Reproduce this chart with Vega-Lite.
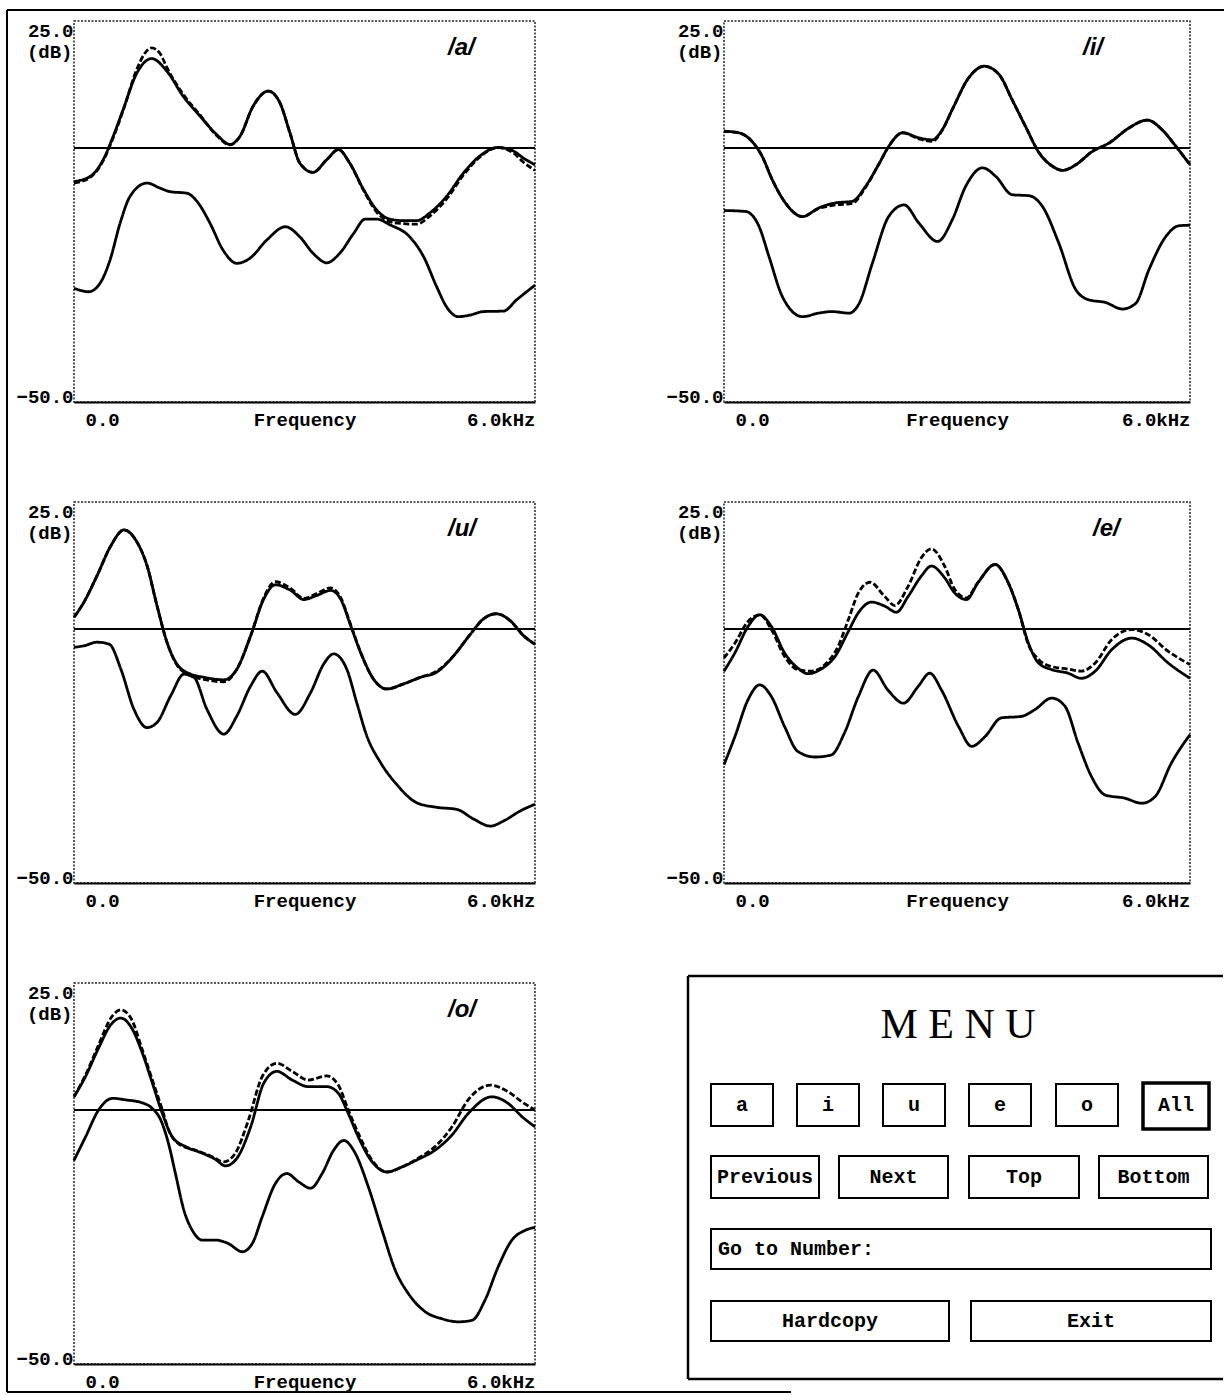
{
"$schema":"https://vega.github.io/schema/vega-lite/v6.json",
"background":"white",
"padding":{"left":5,"top":8,"right":0,"bottom":0},
"config":{
 "view":{"stroke":"#222","strokeWidth":1.5,"strokeDash":[2,1.5]},
 "axis":{"labelFont":"Liberation Mono","labelFontWeight":"bold","labelFontSize":19,"labelColor":"black","titleFont":"Liberation Mono","titleFontWeight":"bold","titleFontSize":19,"titleColor":"black"},
 "title":{"font":"Liberation Sans","fontSize":24,"fontStyle":"italic","fontWeight":"bold","color":"black","anchor":"start","frame":"group","baseline":"top","offset":-39}
},
"datasets":{
"spec":[
{"v":"a","s":"S","f":0,"db":-6.6},{"v":"a","s":"S","f":0.21,"db":-5.6},{"v":"a","s":"S","f":0.38,"db":-2.3},{"v":"a","s":"S","f":0.51,"db":2.3},{"v":"a","s":"S","f":0.64,"db":7.6},{"v":"a","s":"S","f":0.82,"db":14.8},{"v":"a","s":"S","f":1.01,"db":17.6},{"v":"a","s":"S","f":1.21,"db":15.1},{"v":"a","s":"S","f":1.42,"db":10.2},{"v":"a","s":"S","f":1.64,"db":6.3},{"v":"a","s":"S","f":1.86,"db":2.6},{"v":"a","s":"S","f":2.03,"db":0.7},{"v":"a","s":"S","f":2.16,"db":2.3},{"v":"a","s":"S","f":2.33,"db":8.2},{"v":"a","s":"S","f":2.53,"db":11.2},{"v":"a","s":"S","f":2.68,"db":8.9},{"v":"a","s":"S","f":2.81,"db":3.0},{"v":"a","s":"S","f":2.94,"db":-3.0},{"v":"a","s":"S","f":3.11,"db":-4.8},{"v":"a","s":"S","f":3.29,"db":-2.3},{"v":"a","s":"S","f":3.44,"db":-0.3},{"v":"a","s":"S","f":3.59,"db":-3.0},{"v":"a","s":"S","f":3.77,"db":-8.2},{"v":"a","s":"S","f":3.94,"db":-12.2},{"v":"a","s":"S","f":4.11,"db":-14.0},{"v":"a","s":"S","f":4.29,"db":-14.3},{"v":"a","s":"S","f":4.46,"db":-14.3},{"v":"a","s":"S","f":4.63,"db":-12.8},{"v":"a","s":"S","f":4.85,"db":-9.5},{"v":"a","s":"S","f":5.07,"db":-4.9},{"v":"a","s":"S","f":5.28,"db":-1.6},{"v":"a","s":"S","f":5.52,"db":0.1},{"v":"a","s":"S","f":5.72,"db":-0.6},{"v":"a","s":"S","f":5.85,"db":-2.0},{"v":"a","s":"S","f":6.0,"db":-3.3},
{"v":"a","s":"D","f":0,"db":-6.9},{"v":"a","s":"D","f":0.21,"db":-5.8},{"v":"a","s":"D","f":0.38,"db":-2.5},{"v":"a","s":"D","f":0.51,"db":2.0},{"v":"a","s":"D","f":0.64,"db":7.4},{"v":"a","s":"D","f":0.82,"db":15.6},{"v":"a","s":"D","f":0.92,"db":18.6},{"v":"a","s":"D","f":1.01,"db":19.7},{"v":"a","s":"D","f":1.12,"db":18.6},{"v":"a","s":"D","f":1.21,"db":15.8},{"v":"a","s":"D","f":1.42,"db":10.6},{"v":"a","s":"D","f":1.64,"db":6.5},{"v":"a","s":"D","f":1.86,"db":2.4},{"v":"a","s":"D","f":2.03,"db":0.6},{"v":"a","s":"D","f":2.16,"db":2.3},{"v":"a","s":"D","f":2.33,"db":8.2},{"v":"a","s":"D","f":2.53,"db":11.2},{"v":"a","s":"D","f":2.68,"db":8.9},{"v":"a","s":"D","f":2.81,"db":3.0},{"v":"a","s":"D","f":2.94,"db":-3.0},{"v":"a","s":"D","f":3.11,"db":-4.8},{"v":"a","s":"D","f":3.29,"db":-2.3},{"v":"a","s":"D","f":3.44,"db":-0.3},{"v":"a","s":"D","f":3.59,"db":-3.0},{"v":"a","s":"D","f":3.77,"db":-8.4},{"v":"a","s":"D","f":3.94,"db":-12.6},{"v":"a","s":"D","f":4.11,"db":-14.5},{"v":"a","s":"D","f":4.29,"db":-14.9},{"v":"a","s":"D","f":4.46,"db":-15.0},{"v":"a","s":"D","f":4.63,"db":-13.4},{"v":"a","s":"D","f":4.85,"db":-10.0},{"v":"a","s":"D","f":5.07,"db":-5.3},{"v":"a","s":"D","f":5.28,"db":-1.8},{"v":"a","s":"D","f":5.52,"db":0.1},{"v":"a","s":"D","f":5.72,"db":-1.0},{"v":"a","s":"D","f":5.85,"db":-2.8},{"v":"a","s":"D","f":6.0,"db":-4.4},
{"v":"a","s":"L","f":0,"db":-27.6},{"v":"a","s":"L","f":0.19,"db":-28.3},{"v":"a","s":"L","f":0.34,"db":-26.6},{"v":"a","s":"L","f":0.47,"db":-22.0},{"v":"a","s":"L","f":0.60,"db":-14.8},{"v":"a","s":"L","f":0.73,"db":-9.5},{"v":"a","s":"L","f":0.95,"db":-6.9},{"v":"a","s":"L","f":1.12,"db":-7.9},{"v":"a","s":"L","f":1.25,"db":-8.6},{"v":"a","s":"L","f":1.47,"db":-8.9},{"v":"a","s":"L","f":1.60,"db":-10.5},{"v":"a","s":"L","f":1.77,"db":-14.8},{"v":"a","s":"L","f":1.94,"db":-20.1},{"v":"a","s":"L","f":2.12,"db":-22.7},{"v":"a","s":"L","f":2.29,"db":-21.7},{"v":"a","s":"L","f":2.51,"db":-18.1},{"v":"a","s":"L","f":2.75,"db":-15.5},{"v":"a","s":"L","f":2.94,"db":-17.5},{"v":"a","s":"L","f":3.11,"db":-20.7},{"v":"a","s":"L","f":3.29,"db":-22.6},{"v":"a","s":"L","f":3.46,"db":-20.7},{"v":"a","s":"L","f":3.64,"db":-16.8},{"v":"a","s":"L","f":3.79,"db":-14.0},{"v":"a","s":"L","f":3.94,"db":-14.0},{"v":"a","s":"L","f":4.11,"db":-15.1},{"v":"a","s":"L","f":4.37,"db":-17.5},{"v":"a","s":"L","f":4.55,"db":-21.4},{"v":"a","s":"L","f":4.72,"db":-27.3},{"v":"a","s":"L","f":4.85,"db":-31.3},{"v":"a","s":"L","f":5.00,"db":-33.2},{"v":"a","s":"L","f":5.15,"db":-32.9},{"v":"a","s":"L","f":5.33,"db":-32.2},{"v":"a","s":"L","f":5.59,"db":-32.1},{"v":"a","s":"L","f":5.76,"db":-29.9},{"v":"a","s":"L","f":6.0,"db":-27.0},
{"v":"i","s":"S","f":0,"db":3.3},{"v":"i","s":"S","f":0.19,"db":3.0},{"v":"i","s":"S","f":0.36,"db":1.3},{"v":"i","s":"S","f":0.49,"db":-1.6},{"v":"i","s":"S","f":0.62,"db":-6.2},{"v":"i","s":"S","f":0.79,"db":-10.8},{"v":"i","s":"S","f":1.01,"db":-13.5},{"v":"i","s":"S","f":1.22,"db":-11.8},{"v":"i","s":"S","f":1.44,"db":-10.8},{"v":"i","s":"S","f":1.65,"db":-10.5},{"v":"i","s":"S","f":1.82,"db":-7.6},{"v":"i","s":"S","f":2.00,"db":-3.0},{"v":"i","s":"S","f":2.12,"db":0.3},{"v":"i","s":"S","f":2.30,"db":3.0},{"v":"i","s":"S","f":2.51,"db":2.0},{"v":"i","s":"S","f":2.68,"db":1.6},{"v":"i","s":"S","f":2.81,"db":3.6},{"v":"i","s":"S","f":2.94,"db":7.6},{"v":"i","s":"S","f":3.15,"db":13.8},{"v":"i","s":"S","f":3.35,"db":16.1},{"v":"i","s":"S","f":3.54,"db":14.5},{"v":"i","s":"S","f":3.71,"db":9.5},{"v":"i","s":"S","f":3.88,"db":4.3},{"v":"i","s":"S","f":4.06,"db":-1.0},{"v":"i","s":"S","f":4.23,"db":-3.6},{"v":"i","s":"S","f":4.36,"db":-4.4},{"v":"i","s":"S","f":4.53,"db":-3.3},{"v":"i","s":"S","f":4.74,"db":-0.7},{"v":"i","s":"S","f":4.96,"db":1.0},{"v":"i","s":"S","f":5.21,"db":3.9},{"v":"i","s":"S","f":5.45,"db":5.5},{"v":"i","s":"S","f":5.64,"db":3.6},{"v":"i","s":"S","f":5.82,"db":0.3},{"v":"i","s":"S","f":6.0,"db":-3.3},
{"v":"i","s":"D","f":0,"db":3.3},{"v":"i","s":"D","f":0.19,"db":3.0},{"v":"i","s":"D","f":0.36,"db":1.3},{"v":"i","s":"D","f":0.49,"db":-1.6},{"v":"i","s":"D","f":0.62,"db":-6.2},{"v":"i","s":"D","f":0.79,"db":-10.8},{"v":"i","s":"D","f":1.01,"db":-13.5},{"v":"i","s":"D","f":1.22,"db":-11.9},{"v":"i","s":"D","f":1.44,"db":-11.2},{"v":"i","s":"D","f":1.65,"db":-10.9},{"v":"i","s":"D","f":1.82,"db":-7.8},{"v":"i","s":"D","f":2.00,"db":-3.0},{"v":"i","s":"D","f":2.12,"db":0.3},{"v":"i","s":"D","f":2.30,"db":3.0},{"v":"i","s":"D","f":2.51,"db":1.8},{"v":"i","s":"D","f":2.68,"db":1.3},{"v":"i","s":"D","f":2.81,"db":3.5},{"v":"i","s":"D","f":2.94,"db":7.6},{"v":"i","s":"D","f":3.15,"db":13.8},{"v":"i","s":"D","f":3.35,"db":16.1},{"v":"i","s":"D","f":3.54,"db":14.5},{"v":"i","s":"D","f":3.71,"db":9.5},{"v":"i","s":"D","f":3.88,"db":4.3},{"v":"i","s":"D","f":4.06,"db":-1.0},{"v":"i","s":"D","f":4.23,"db":-3.6},{"v":"i","s":"D","f":4.36,"db":-4.4},{"v":"i","s":"D","f":4.53,"db":-3.3},{"v":"i","s":"D","f":4.74,"db":-0.7},{"v":"i","s":"D","f":4.96,"db":1.0},{"v":"i","s":"D","f":5.21,"db":3.9},{"v":"i","s":"D","f":5.45,"db":5.5},{"v":"i","s":"D","f":5.64,"db":3.6},{"v":"i","s":"D","f":5.82,"db":0.3},{"v":"i","s":"D","f":6.0,"db":-3.3},
{"v":"i","s":"L","f":0,"db":-12.3},{"v":"i","s":"L","f":0.28,"db":-12.5},{"v":"i","s":"L","f":0.45,"db":-15.4},{"v":"i","s":"L","f":0.58,"db":-21.4},{"v":"i","s":"L","f":0.75,"db":-29.2},{"v":"i","s":"L","f":1.01,"db":-33.2},{"v":"i","s":"L","f":1.22,"db":-32.5},{"v":"i","s":"L","f":1.39,"db":-32.2},{"v":"i","s":"L","f":1.61,"db":-32.5},{"v":"i","s":"L","f":1.74,"db":-30.6},{"v":"i","s":"L","f":1.91,"db":-22.7},{"v":"i","s":"L","f":2.12,"db":-13.5},{"v":"i","s":"L","f":2.32,"db":-11.2},{"v":"i","s":"L","f":2.51,"db":-14.8},{"v":"i","s":"L","f":2.75,"db":-18.4},{"v":"i","s":"L","f":2.94,"db":-14.1},{"v":"i","s":"L","f":3.11,"db":-7.6},{"v":"i","s":"L","f":3.33,"db":-3.9},{"v":"i","s":"L","f":3.50,"db":-5.6},{"v":"i","s":"L","f":3.71,"db":-9.2},{"v":"i","s":"L","f":3.93,"db":-9.4},{"v":"i","s":"L","f":4.10,"db":-11.5},{"v":"i","s":"L","f":4.31,"db":-18.7},{"v":"i","s":"L","f":4.53,"db":-27.9},{"v":"i","s":"L","f":4.70,"db":-29.9},{"v":"i","s":"L","f":4.91,"db":-30.4},{"v":"i","s":"L","f":5.13,"db":-31.7},{"v":"i","s":"L","f":5.30,"db":-30.6},{"v":"i","s":"L","f":5.47,"db":-24.0},{"v":"i","s":"L","f":5.69,"db":-17.4},{"v":"i","s":"L","f":5.86,"db":-15.3},{"v":"i","s":"L","f":6.0,"db":-15.2},
{"v":"u","s":"S","f":0,"db":2.3},{"v":"u","s":"S","f":0.13,"db":5.3},{"v":"u","s":"S","f":0.30,"db":10.5},{"v":"u","s":"S","f":0.48,"db":16.4},{"v":"u","s":"S","f":0.65,"db":19.5},{"v":"u","s":"S","f":0.82,"db":17.1},{"v":"u","s":"S","f":0.95,"db":12.5},{"v":"u","s":"S","f":1.08,"db":4.6},{"v":"u","s":"S","f":1.21,"db":-2.6},{"v":"u","s":"S","f":1.34,"db":-6.9},{"v":"u","s":"S","f":1.52,"db":-8.9},{"v":"u","s":"S","f":1.69,"db":-9.5},{"v":"u","s":"S","f":1.95,"db":-10.0},{"v":"u","s":"S","f":2.12,"db":-7.9},{"v":"u","s":"S","f":2.30,"db":-1.3},{"v":"u","s":"S","f":2.47,"db":5.9},{"v":"u","s":"S","f":2.62,"db":8.7},{"v":"u","s":"S","f":2.82,"db":7.6},{"v":"u","s":"S","f":2.99,"db":5.8},{"v":"u","s":"S","f":3.16,"db":6.6},{"v":"u","s":"S","f":3.34,"db":7.6},{"v":"u","s":"S","f":3.47,"db":5.9},{"v":"u","s":"S","f":3.60,"db":0.7},{"v":"u","s":"S","f":3.73,"db":-4.6},{"v":"u","s":"S","f":3.90,"db":-9.9},{"v":"u","s":"S","f":4.07,"db":-11.8},{"v":"u","s":"S","f":4.29,"db":-10.8},{"v":"u","s":"S","f":4.51,"db":-9.5},{"v":"u","s":"S","f":4.72,"db":-8.5},{"v":"u","s":"S","f":4.94,"db":-5.3},{"v":"u","s":"S","f":5.16,"db":-1.0},{"v":"u","s":"S","f":5.33,"db":2.0},{"v":"u","s":"S","f":5.50,"db":3.0},{"v":"u","s":"S","f":5.68,"db":1.6},{"v":"u","s":"S","f":5.85,"db":-1.3},{"v":"u","s":"S","f":6.0,"db":-3.0},
{"v":"u","s":"D","f":0,"db":2.3},{"v":"u","s":"D","f":0.13,"db":5.3},{"v":"u","s":"D","f":0.30,"db":10.5},{"v":"u","s":"D","f":0.48,"db":16.4},{"v":"u","s":"D","f":0.65,"db":19.5},{"v":"u","s":"D","f":0.82,"db":17.1},{"v":"u","s":"D","f":0.95,"db":12.5},{"v":"u","s":"D","f":1.08,"db":4.6},{"v":"u","s":"D","f":1.21,"db":-2.6},{"v":"u","s":"D","f":1.34,"db":-7.1},{"v":"u","s":"D","f":1.52,"db":-9.2},{"v":"u","s":"D","f":1.69,"db":-9.9},{"v":"u","s":"D","f":1.95,"db":-10.4},{"v":"u","s":"D","f":2.12,"db":-7.9},{"v":"u","s":"D","f":2.30,"db":-1.3},{"v":"u","s":"D","f":2.47,"db":6.2},{"v":"u","s":"D","f":2.62,"db":9.3},{"v":"u","s":"D","f":2.82,"db":8.0},{"v":"u","s":"D","f":2.99,"db":6.0},{"v":"u","s":"D","f":3.16,"db":7.0},{"v":"u","s":"D","f":3.34,"db":8.1},{"v":"u","s":"D","f":3.47,"db":6.2},{"v":"u","s":"D","f":3.60,"db":0.9},{"v":"u","s":"D","f":3.73,"db":-4.6},{"v":"u","s":"D","f":3.90,"db":-9.9},{"v":"u","s":"D","f":4.07,"db":-11.8},{"v":"u","s":"D","f":4.29,"db":-10.8},{"v":"u","s":"D","f":4.51,"db":-9.5},{"v":"u","s":"D","f":4.72,"db":-8.3},{"v":"u","s":"D","f":4.94,"db":-5.3},{"v":"u","s":"D","f":5.16,"db":-1.0},{"v":"u","s":"D","f":5.33,"db":2.0},{"v":"u","s":"D","f":5.50,"db":3.0},{"v":"u","s":"D","f":5.68,"db":1.6},{"v":"u","s":"D","f":5.85,"db":-1.3},{"v":"u","s":"D","f":6.0,"db":-3.0},
{"v":"u","s":"L","f":0,"db":-3.6},{"v":"u","s":"L","f":0.13,"db":-3.3},{"v":"u","s":"L","f":0.30,"db":-2.6},{"v":"u","s":"L","f":0.46,"db":-3.0},{"v":"u","s":"L","f":0.61,"db":-7.9},{"v":"u","s":"L","f":0.78,"db":-15.8},{"v":"u","s":"L","f":0.95,"db":-19.4},{"v":"u","s":"L","f":1.08,"db":-18.4},{"v":"u","s":"L","f":1.26,"db":-13.1},{"v":"u","s":"L","f":1.43,"db":-8.9},{"v":"u","s":"L","f":1.56,"db":-9.5},{"v":"u","s":"L","f":1.73,"db":-15.8},{"v":"u","s":"L","f":1.95,"db":-20.7},{"v":"u","s":"L","f":2.12,"db":-17.1},{"v":"u","s":"L","f":2.30,"db":-11.2},{"v":"u","s":"L","f":2.45,"db":-8.3},{"v":"u","s":"L","f":2.64,"db":-12.5},{"v":"u","s":"L","f":2.88,"db":-16.8},{"v":"u","s":"L","f":3.08,"db":-12.5},{"v":"u","s":"L","f":3.25,"db":-6.9},{"v":"u","s":"L","f":3.38,"db":-4.9},{"v":"u","s":"L","f":3.55,"db":-7.9},{"v":"u","s":"L","f":3.68,"db":-14.5},{"v":"u","s":"L","f":3.81,"db":-21.0},{"v":"u","s":"L","f":3.99,"db":-26.3},{"v":"u","s":"L","f":4.20,"db":-30.6},{"v":"u","s":"L","f":4.46,"db":-34.2},{"v":"u","s":"L","f":4.72,"db":-35.1},{"v":"u","s":"L","f":4.98,"db":-35.5},{"v":"u","s":"L","f":5.20,"db":-37.4},{"v":"u","s":"L","f":5.42,"db":-38.8},{"v":"u","s":"L","f":5.59,"db":-37.8},{"v":"u","s":"L","f":5.81,"db":-35.8},{"v":"u","s":"L","f":6.0,"db":-34.5},
{"v":"e","s":"S","f":0,"db":-8.3},{"v":"e","s":"S","f":0.14,"db":-4.7},{"v":"e","s":"S","f":0.31,"db":0.5},{"v":"e","s":"S","f":0.46,"db":2.8},{"v":"e","s":"S","f":0.61,"db":0.5},{"v":"e","s":"S","f":0.78,"db":-4.7},{"v":"e","s":"S","f":0.95,"db":-7.7},{"v":"e","s":"S","f":1.08,"db":-8.8},{"v":"e","s":"S","f":1.25,"db":-7.9},{"v":"e","s":"S","f":1.43,"db":-5.4},{"v":"e","s":"S","f":1.60,"db":-0.5},{"v":"e","s":"S","f":1.73,"db":3.2},{"v":"e","s":"S","f":1.90,"db":5.3},{"v":"e","s":"S","f":2.07,"db":4.5},{"v":"e","s":"S","f":2.22,"db":3.3},{"v":"e","s":"S","f":2.37,"db":6.4},{"v":"e","s":"S","f":2.54,"db":10.4},{"v":"e","s":"S","f":2.67,"db":12.4},{"v":"e","s":"S","f":2.84,"db":10.1},{"v":"e","s":"S","f":2.97,"db":7.1},{"v":"e","s":"S","f":3.12,"db":5.8},{"v":"e","s":"S","f":3.27,"db":9.1},{"v":"e","s":"S","f":3.49,"db":12.7},{"v":"e","s":"S","f":3.66,"db":9.1},{"v":"e","s":"S","f":3.79,"db":3.8},{"v":"e","s":"S","f":3.92,"db":-2.8},{"v":"e","s":"S","f":4.05,"db":-6.7},{"v":"e","s":"S","f":4.22,"db":-8.0},{"v":"e","s":"S","f":4.43,"db":-8.7},{"v":"e","s":"S","f":4.60,"db":-9.7},{"v":"e","s":"S","f":4.78,"db":-8.3},{"v":"e","s":"S","f":4.99,"db":-4.1},{"v":"e","s":"S","f":5.25,"db":-1.8},{"v":"e","s":"S","f":5.46,"db":-3.1},{"v":"e","s":"S","f":5.72,"db":-6.7},{"v":"e","s":"S","f":6.0,"db":-9.7},
{"v":"e","s":"D","f":0,"db":-5.7},{"v":"e","s":"D","f":0.14,"db":-2.8},{"v":"e","s":"D","f":0.31,"db":1.5},{"v":"e","s":"D","f":0.46,"db":2.8},{"v":"e","s":"D","f":0.61,"db":-0.1},{"v":"e","s":"D","f":0.78,"db":-5.4},{"v":"e","s":"D","f":0.95,"db":-8.0},{"v":"e","s":"D","f":1.13,"db":-8.3},{"v":"e","s":"D","f":1.30,"db":-7.0},{"v":"e","s":"D","f":1.47,"db":-3.4},{"v":"e","s":"D","f":1.60,"db":1.8},{"v":"e","s":"D","f":1.73,"db":7.1},{"v":"e","s":"D","f":1.88,"db":9.2},{"v":"e","s":"D","f":2.07,"db":6.4},{"v":"e","s":"D","f":2.20,"db":4.6},{"v":"e","s":"D","f":2.37,"db":8.4},{"v":"e","s":"D","f":2.54,"db":14.0},{"v":"e","s":"D","f":2.67,"db":15.8},{"v":"e","s":"D","f":2.84,"db":12.4},{"v":"e","s":"D","f":2.97,"db":7.8},{"v":"e","s":"D","f":3.12,"db":6.1},{"v":"e","s":"D","f":3.27,"db":9.2},{"v":"e","s":"D","f":3.49,"db":12.7},{"v":"e","s":"D","f":3.66,"db":9.1},{"v":"e","s":"D","f":3.79,"db":3.8},{"v":"e","s":"D","f":3.92,"db":-3.1},{"v":"e","s":"D","f":4.05,"db":-6.0},{"v":"e","s":"D","f":4.22,"db":-7.4},{"v":"e","s":"D","f":4.43,"db":-7.9},{"v":"e","s":"D","f":4.60,"db":-8.3},{"v":"e","s":"D","f":4.78,"db":-6.7},{"v":"e","s":"D","f":4.99,"db":-2.1},{"v":"e","s":"D","f":5.25,"db":-0.1},{"v":"e","s":"D","f":5.46,"db":-1.1},{"v":"e","s":"D","f":5.72,"db":-4.4},{"v":"e","s":"D","f":6.0,"db":-7.0},
{"v":"e","s":"L","f":0,"db":-26.7},{"v":"e","s":"L","f":0.14,"db":-21.2},{"v":"e","s":"L","f":0.31,"db":-13.9},{"v":"e","s":"L","f":0.46,"db":-11.0},{"v":"e","s":"L","f":0.61,"db":-13.3},{"v":"e","s":"L","f":0.78,"db":-19.2},{"v":"e","s":"L","f":0.95,"db":-24.1},{"v":"e","s":"L","f":1.17,"db":-25.2},{"v":"e","s":"L","f":1.38,"db":-24.8},{"v":"e","s":"L","f":1.55,"db":-20.5},{"v":"e","s":"L","f":1.73,"db":-13.3},{"v":"e","s":"L","f":1.92,"db":-8.1},{"v":"e","s":"L","f":2.11,"db":-12.0},{"v":"e","s":"L","f":2.31,"db":-14.6},{"v":"e","s":"L","f":2.50,"db":-11.3},{"v":"e","s":"L","f":2.65,"db":-8.7},{"v":"e","s":"L","f":2.80,"db":-12.0},{"v":"e","s":"L","f":3.02,"db":-19.2},{"v":"e","s":"L","f":3.19,"db":-23.1},{"v":"e","s":"L","f":3.36,"db":-21.2},{"v":"e","s":"L","f":3.57,"db":-17.5},{"v":"e","s":"L","f":3.83,"db":-17.2},{"v":"e","s":"L","f":4.00,"db":-15.9},{"v":"e","s":"L","f":4.22,"db":-13.6},{"v":"e","s":"L","f":4.39,"db":-15.2},{"v":"e","s":"L","f":4.56,"db":-22.5},{"v":"e","s":"L","f":4.73,"db":-29.0},{"v":"e","s":"L","f":4.91,"db":-32.7},{"v":"e","s":"L","f":5.16,"db":-33.3},{"v":"e","s":"L","f":5.38,"db":-34.3},{"v":"e","s":"L","f":5.55,"db":-33.0},{"v":"e","s":"L","f":5.76,"db":-26.4},{"v":"e","s":"L","f":6.0,"db":-20.8},
{"v":"o","s":"D","f":0,"db":2.6},{"v":"o","s":"D","f":0.15,"db":6.9},{"v":"o","s":"D","f":0.32,"db":12.8},{"v":"o","s":"D","f":0.48,"db":18.1},{"v":"o","s":"D","f":0.61,"db":19.7},{"v":"o","s":"D","f":0.74,"db":18.1},{"v":"o","s":"D","f":0.89,"db":11.8},{"v":"o","s":"D","f":1.02,"db":5.9},{"v":"o","s":"D","f":1.15,"db":0.0},{"v":"o","s":"D","f":1.23,"db":-3.9},{"v":"o","s":"D","f":1.36,"db":-6.6},{"v":"o","s":"D","f":1.58,"db":-7.9},{"v":"o","s":"D","f":1.80,"db":-9.2},{"v":"o","s":"D","f":1.95,"db":-10.2},{"v":"o","s":"D","f":2.10,"db":-8.5},{"v":"o","s":"D","f":2.27,"db":-2.0},{"v":"o","s":"D","f":2.45,"db":6.6},{"v":"o","s":"D","f":2.64,"db":9.2},{"v":"o","s":"D","f":2.84,"db":7.6},{"v":"o","s":"D","f":3.05,"db":5.9},{"v":"o","s":"D","f":3.29,"db":6.7},{"v":"o","s":"D","f":3.44,"db":4.9},{"v":"o","s":"D","f":3.57,"db":0.0},{"v":"o","s":"D","f":3.70,"db":-4.6},{"v":"o","s":"D","f":3.88,"db":-9.9},{"v":"o","s":"D","f":4.07,"db":-12.2},{"v":"o","s":"D","f":4.27,"db":-11.2},{"v":"o","s":"D","f":4.48,"db":-9.5},{"v":"o","s":"D","f":4.70,"db":-7.2},{"v":"o","s":"D","f":4.92,"db":-3.3},{"v":"o","s":"D","f":5.13,"db":2.0},{"v":"o","s":"D","f":5.42,"db":4.9},{"v":"o","s":"D","f":5.65,"db":3.6},{"v":"o","s":"D","f":5.83,"db":1.6},{"v":"o","s":"D","f":6.0,"db":0.0},
{"v":"o","s":"S","f":0,"db":2.6},{"v":"o","s":"S","f":0.15,"db":6.6},{"v":"o","s":"S","f":0.32,"db":12.2},{"v":"o","s":"S","f":0.48,"db":16.8},{"v":"o","s":"S","f":0.61,"db":18.1},{"v":"o","s":"S","f":0.74,"db":16.4},{"v":"o","s":"S","f":0.89,"db":11.2},{"v":"o","s":"S","f":1.02,"db":5.3},{"v":"o","s":"S","f":1.15,"db":-0.7},{"v":"o","s":"S","f":1.28,"db":-5.3},{"v":"o","s":"S","f":1.45,"db":-7.2},{"v":"o","s":"S","f":1.67,"db":-8.5},{"v":"o","s":"S","f":1.84,"db":-9.7},{"v":"o","s":"S","f":1.97,"db":-11.0},{"v":"o","s":"S","f":2.12,"db":-9.5},{"v":"o","s":"S","f":2.30,"db":-3.3},{"v":"o","s":"S","f":2.47,"db":5.3},{"v":"o","s":"S","f":2.64,"db":7.6},{"v":"o","s":"S","f":2.84,"db":5.9},{"v":"o","s":"S","f":3.05,"db":4.6},{"v":"o","s":"S","f":3.29,"db":4.6},{"v":"o","s":"S","f":3.44,"db":3.3},{"v":"o","s":"S","f":3.57,"db":-0.7},{"v":"o","s":"S","f":3.70,"db":-5.3},{"v":"o","s":"S","f":3.88,"db":-10.2},{"v":"o","s":"S","f":4.07,"db":-12.2},{"v":"o","s":"S","f":4.27,"db":-11.2},{"v":"o","s":"S","f":4.48,"db":-9.7},{"v":"o","s":"S","f":4.70,"db":-7.9},{"v":"o","s":"S","f":4.92,"db":-4.9},{"v":"o","s":"S","f":5.13,"db":-0.7},{"v":"o","s":"S","f":5.44,"db":2.6},{"v":"o","s":"S","f":5.65,"db":1.3},{"v":"o","s":"S","f":5.83,"db":-1.3},{"v":"o","s":"S","f":6.0,"db":-3.3},
{"v":"o","s":"L","f":0,"db":-9.9},{"v":"o","s":"L","f":0.15,"db":-5.3},{"v":"o","s":"L","f":0.32,"db":0.0},{"v":"o","s":"L","f":0.50,"db":2.3},{"v":"o","s":"L","f":0.67,"db":2.0},{"v":"o","s":"L","f":0.89,"db":1.4},{"v":"o","s":"L","f":1.02,"db":0.3},{"v":"o","s":"L","f":1.13,"db":-2.0},{"v":"o","s":"L","f":1.23,"db":-6.6},{"v":"o","s":"L","f":1.32,"db":-12.5},{"v":"o","s":"L","f":1.43,"db":-19.7},{"v":"o","s":"L","f":1.54,"db":-23.7},{"v":"o","s":"L","f":1.67,"db":-25.6},{"v":"o","s":"L","f":1.84,"db":-25.6},{"v":"o","s":"L","f":2.01,"db":-26.3},{"v":"o","s":"L","f":2.19,"db":-27.9},{"v":"o","s":"L","f":2.32,"db":-26.3},{"v":"o","s":"L","f":2.45,"db":-21.0},{"v":"o","s":"L","f":2.62,"db":-14.5},{"v":"o","s":"L","f":2.77,"db":-12.5},{"v":"o","s":"L","f":2.92,"db":-14.1},{"v":"o","s":"L","f":3.08,"db":-15.4},{"v":"o","s":"L","f":3.23,"db":-12.5},{"v":"o","s":"L","f":3.38,"db":-7.9},{"v":"o","s":"L","f":3.51,"db":-6.0},{"v":"o","s":"L","f":3.66,"db":-8.5},{"v":"o","s":"L","f":3.83,"db":-15.1},{"v":"o","s":"L","f":4.01,"db":-23.7},{"v":"o","s":"L","f":4.18,"db":-31.5},{"v":"o","s":"L","f":4.35,"db":-36.1},{"v":"o","s":"L","f":4.57,"db":-39.7},{"v":"o","s":"L","f":4.79,"db":-41.1},{"v":"o","s":"L","f":5.00,"db":-41.7},{"v":"o","s":"L","f":5.18,"db":-41.4},{"v":"o","s":"L","f":5.35,"db":-37.4},{"v":"o","s":"L","f":5.52,"db":-30.9},{"v":"o","s":"L","f":5.70,"db":-25.6},{"v":"o","s":"L","f":5.87,"db":-23.7},{"v":"o","s":"L","f":6.0,"db":-23.1}
],
"menu":[
{"k":"frame","x0":-140.8,"x1":102.6,"y0":-193.2,"y1":-193.2},
{"k":"frame","x0":-140.8,"x1":-140.8,"y0":-193.2,"y1":83.2},
{"k":"frame","x0":-140.8,"x1":16,"y0":83.2,"y1":83.2},
{"k":"edge","x0":-4.6,"x1":102.4,"y0":0,"y1":0},
{"k":"edge","x0":-4.6,"x1":-4.6,"y0":0,"y1":80.6},
{"k":"edge","x0":-4.6,"x1":102.4,"y0":80.6,"y1":80.6},
{"k":"head","t":"M E N U","cx":49.4,"cy":9.8},
{"k":"btn","t":"a","x0":0,"x1":12.4,"y0":21.6,"y1":30,"cx":6.2,"cy":25.8},
{"k":"btn","t":"i","x0":17.2,"x1":29.6,"y0":21.6,"y1":30,"cx":23.4,"cy":25.8},
{"k":"btn","t":"u","x0":34.4,"x1":46.8,"y0":21.6,"y1":30,"cx":40.6,"cy":25.8},
{"k":"btn","t":"e","x0":51.6,"x1":64,"y0":21.6,"y1":30,"cx":57.8,"cy":25.8},
{"k":"btn","t":"o","x0":69,"x1":81.4,"y0":21.6,"y1":30,"cx":75.2,"cy":25.8},
{"k":"btn","t":"All","x0":86.4,"x1":99.6,"y0":21.4,"y1":30.6,"cx":93,"cy":25.8},
{"k":"btn","t":"Previous","x0":0,"x1":21.6,"y0":36,"y1":44.4,"cx":10.8,"cy":40.2},
{"k":"btn","t":"Next","x0":25.6,"x1":47.4,"y0":36,"y1":44.4,"cx":36.5,"cy":40.2},
{"k":"btn","t":"Top","x0":51.6,"x1":73.6,"y0":36,"y1":44.4,"cx":62.6,"cy":40.2},
{"k":"btn","t":"Bottom","x0":77.6,"x1":99.4,"y0":36,"y1":44.4,"cx":88.5,"cy":40.2},
{"k":"input","t":"Go to Number:","x0":0,"x1":100,"y0":50.6,"y1":58.6,"cx":1.4,"cy":54.6},
{"k":"btn","t":"Hardcopy","x0":0,"x1":47.6,"y0":65,"y1":73,"cx":23.8,"cy":69},
{"k":"btn","t":"Exit","x0":52,"x1":100,"y0":65,"y1":73,"cx":76,"cy":69}
]
},
"columns":2,
"spacing":{"row":100,"column":189},
"bounds":"flush",
"concat":[
{"width":461,"height":381,"title":{"text":"/a/","dx":374},
 "encoding":{"y":{"field":"db","type":"quantitative","scale":{"domain":[-50,25],"nice":false,"zero":false},"axis":{"values":[-50,25],"format":".1f","labelBaseline":{"condition":{"test":"datum.value == 25","value":"top"},"value":"alphabetic"},"ticks":false,"domain":false,"grid":false,"labelPadding":1,"title":"(dB)","titleAngle":0,"titleAlign":"right","titleBaseline":"middle","titleX":-2,"titleY":30}}},
 "layer":[
  {"data":{"name":"spec"},"transform":[{"filter":"datum.v == 'a'"}],"mark":{"type":"line","interpolate":"monotone","strokeWidth":2.8,"color":"black"},
   "encoding":{"x":{"field":"f","type":"quantitative","scale":{"domain":[0,6],"nice":false,"zero":false},"axis":{"values":[0,6],"labelExpr":"datum.value == 0 ? '0.0' : '6.0kHz'","labelFlush":true,"labelOffset":{"condition":{"test":"datum.value == 0","value":11},"value":0},"ticks":false,"grid":false,"domainColor":"black","domainWidth":2,"labelPadding":8,"labelBaseline":"top","title":"Frequency","titleBaseline":"top","titleY":8}},
   "strokeDash":{"field":"s","type":"nominal","scale":{"domain":["S","D","L"],"range":[[1,0],[6,2.5],[1,0]]},"legend":null}}},
  {"data":{"values":[{"db":0}]},"mark":{"type":"rule","color":"black","strokeWidth":2},"encoding":{}}
 ]},
{"width":466,"height":381,"title":{"text":"/i/","dx":359},
 "encoding":{"y":{"field":"db","type":"quantitative","scale":{"domain":[-50,25],"nice":false,"zero":false},"axis":{"values":[-50,25],"format":".1f","labelBaseline":{"condition":{"test":"datum.value == 25","value":"top"},"value":"alphabetic"},"ticks":false,"domain":false,"grid":false,"labelPadding":1,"title":"(dB)","titleAngle":0,"titleAlign":"right","titleBaseline":"middle","titleX":-2,"titleY":30}}},
 "layer":[
  {"data":{"name":"spec"},"transform":[{"filter":"datum.v == 'i'"}],"mark":{"type":"line","interpolate":"monotone","strokeWidth":2.8,"color":"black"},
   "encoding":{"x":{"field":"f","type":"quantitative","scale":{"domain":[0,6],"nice":false,"zero":false},"axis":{"values":[0,6],"labelExpr":"datum.value == 0 ? '0.0' : '6.0kHz'","labelFlush":true,"labelOffset":{"condition":{"test":"datum.value == 0","value":11},"value":0},"ticks":false,"grid":false,"domainColor":"black","domainWidth":2,"labelPadding":8,"labelBaseline":"top","title":"Frequency","titleBaseline":"top","titleY":8}},
   "strokeDash":{"field":"s","type":"nominal","scale":{"domain":["S","D","L"],"range":[[1,0],[6,2.5],[1,0]]},"legend":null}}},
  {"data":{"values":[{"db":0}]},"mark":{"type":"rule","color":"black","strokeWidth":2},"encoding":{}}
 ]},
{"width":461,"height":381,"title":{"text":"/u/","dx":374},
 "encoding":{"y":{"field":"db","type":"quantitative","scale":{"domain":[-50,25],"nice":false,"zero":false},"axis":{"values":[-50,25],"format":".1f","labelBaseline":{"condition":{"test":"datum.value == 25","value":"top"},"value":"alphabetic"},"ticks":false,"domain":false,"grid":false,"labelPadding":1,"title":"(dB)","titleAngle":0,"titleAlign":"right","titleBaseline":"middle","titleX":-2,"titleY":30}}},
 "layer":[
  {"data":{"name":"spec"},"transform":[{"filter":"datum.v == 'u'"}],"mark":{"type":"line","interpolate":"monotone","strokeWidth":2.8,"color":"black"},
   "encoding":{"x":{"field":"f","type":"quantitative","scale":{"domain":[0,6],"nice":false,"zero":false},"axis":{"values":[0,6],"labelExpr":"datum.value == 0 ? '0.0' : '6.0kHz'","labelFlush":true,"labelOffset":{"condition":{"test":"datum.value == 0","value":11},"value":0},"ticks":false,"grid":false,"domainColor":"black","domainWidth":2,"labelPadding":8,"labelBaseline":"top","title":"Frequency","titleBaseline":"top","titleY":8}},
   "strokeDash":{"field":"s","type":"nominal","scale":{"domain":["S","D","L"],"range":[[1,0],[6,2.5],[1,0]]},"legend":null}}},
  {"data":{"values":[{"db":0}]},"mark":{"type":"rule","color":"black","strokeWidth":2},"encoding":{}}
 ]},
{"width":466,"height":381,"title":{"text":"/e/","dx":369},
 "encoding":{"y":{"field":"db","type":"quantitative","scale":{"domain":[-50,25],"nice":false,"zero":false},"axis":{"values":[-50,25],"format":".1f","labelBaseline":{"condition":{"test":"datum.value == 25","value":"top"},"value":"alphabetic"},"ticks":false,"domain":false,"grid":false,"labelPadding":1,"title":"(dB)","titleAngle":0,"titleAlign":"right","titleBaseline":"middle","titleX":-2,"titleY":30}}},
 "layer":[
  {"data":{"name":"spec"},"transform":[{"filter":"datum.v == 'e'"}],"mark":{"type":"line","interpolate":"monotone","strokeWidth":2.8,"color":"black"},
   "encoding":{"x":{"field":"f","type":"quantitative","scale":{"domain":[0,6],"nice":false,"zero":false},"axis":{"values":[0,6],"labelExpr":"datum.value == 0 ? '0.0' : '6.0kHz'","labelFlush":true,"labelOffset":{"condition":{"test":"datum.value == 0","value":11},"value":0},"ticks":false,"grid":false,"domainColor":"black","domainWidth":2,"labelPadding":8,"labelBaseline":"top","title":"Frequency","titleBaseline":"top","titleY":8}},
   "strokeDash":{"field":"s","type":"nominal","scale":{"domain":["S","D","L"],"range":[[1,0],[6,2.5],[1,0]]},"legend":null}}},
  {"data":{"values":[{"db":0}]},"mark":{"type":"rule","color":"black","strokeWidth":2},"encoding":{}}
 ]},
{"width":461,"height":381,"title":{"text":"/o/","dx":374},
 "encoding":{"y":{"field":"db","type":"quantitative","scale":{"domain":[-50,25],"nice":false,"zero":false},"axis":{"values":[-50,25],"format":".1f","labelBaseline":{"condition":{"test":"datum.value == 25","value":"top"},"value":"alphabetic"},"ticks":false,"domain":false,"grid":false,"labelPadding":1,"title":"(dB)","titleAngle":0,"titleAlign":"right","titleBaseline":"middle","titleX":-2,"titleY":30}}},
 "layer":[
  {"data":{"name":"spec"},"transform":[{"filter":"datum.v == 'o'"}],"mark":{"type":"line","interpolate":"monotone","strokeWidth":2.8,"color":"black"},
   "encoding":{"x":{"field":"f","type":"quantitative","scale":{"domain":[0,6],"nice":false,"zero":false},"axis":{"values":[0,6],"labelExpr":"datum.value == 0 ? '0.0' : '6.0kHz'","labelFlush":true,"labelOffset":{"condition":{"test":"datum.value == 0","value":11},"value":0},"ticks":false,"grid":false,"domainColor":"black","domainWidth":2,"labelPadding":8,"labelBaseline":"top","title":"Frequency","titleBaseline":"top","titleY":8}},
   "strokeDash":{"field":"s","type":"nominal","scale":{"domain":["S","D","L"],"range":[[1,0],[6,2.5],[1,0]]},"legend":null}}},
  {"data":{"values":[{"db":0}]},"mark":{"type":"rule","color":"black","strokeWidth":2},"encoding":{}}
 ]},
{"width":500,"height":381,"view":{"stroke":null},
 "data":{"name":"menu"},
 "encoding":{
  "x":{"field":"x0","type":"quantitative","scale":{"domain":[2.6,102.6],"nice":false,"zero":false},"axis":null},
  "y":{"field":"y0","type":"quantitative","scale":{"domain":[1.4,77.6],"nice":false,"zero":false,"reverse":true},"axis":null}
 },
 "layer":[
  {"transform":[{"filter":"datum.k == 'frame'"}],"mark":{"type":"rule","color":"black","strokeWidth":2,"clip":false},
   "encoding":{"x2":{"field":"x1"},"y2":{"field":"y1"}}},
  {"transform":[{"filter":"datum.k == 'edge'"}],"mark":{"type":"rule","color":"black","strokeWidth":2.5,"clip":false},
   "encoding":{"x2":{"field":"x1"},"y2":{"field":"y1"}}},
  {"transform":[{"filter":"datum.k == 'btn' || datum.k == 'input'"}],"mark":{"type":"rect","fill":"white","stroke":"black","clip":false},
   "encoding":{"x2":{"field":"x1"},"y2":{"field":"y1"},"strokeWidth":{"condition":{"test":"datum.t == 'All'","value":3.5},"value":2}}},
  {"transform":[{"filter":"datum.k == 'btn'"}],"mark":{"type":"text","font":"Liberation Mono","fontWeight":"bold","fontSize":20,"align":"center","baseline":"middle","color":"black"},
   "encoding":{"x":{"field":"cx","type":"quantitative"},"y":{"field":"cy","type":"quantitative"},"text":{"field":"t"}}},
  {"transform":[{"filter":"datum.k == 'input'"}],"mark":{"type":"text","font":"Liberation Mono","fontWeight":"bold","fontSize":20,"align":"left","baseline":"middle","color":"black"},
   "encoding":{"x":{"field":"cx","type":"quantitative"},"y":{"field":"cy","type":"quantitative"},"text":{"field":"t"}}},
  {"transform":[{"filter":"datum.k == 'head'"}],"mark":{"type":"text","font":"Liberation Serif","fontSize":42,"align":"center","baseline":"middle","color":"black"},
   "encoding":{"x":{"field":"cx","type":"quantitative"},"y":{"field":"cy","type":"quantitative"},"text":{"field":"t"}}}
 ]}
]
}
